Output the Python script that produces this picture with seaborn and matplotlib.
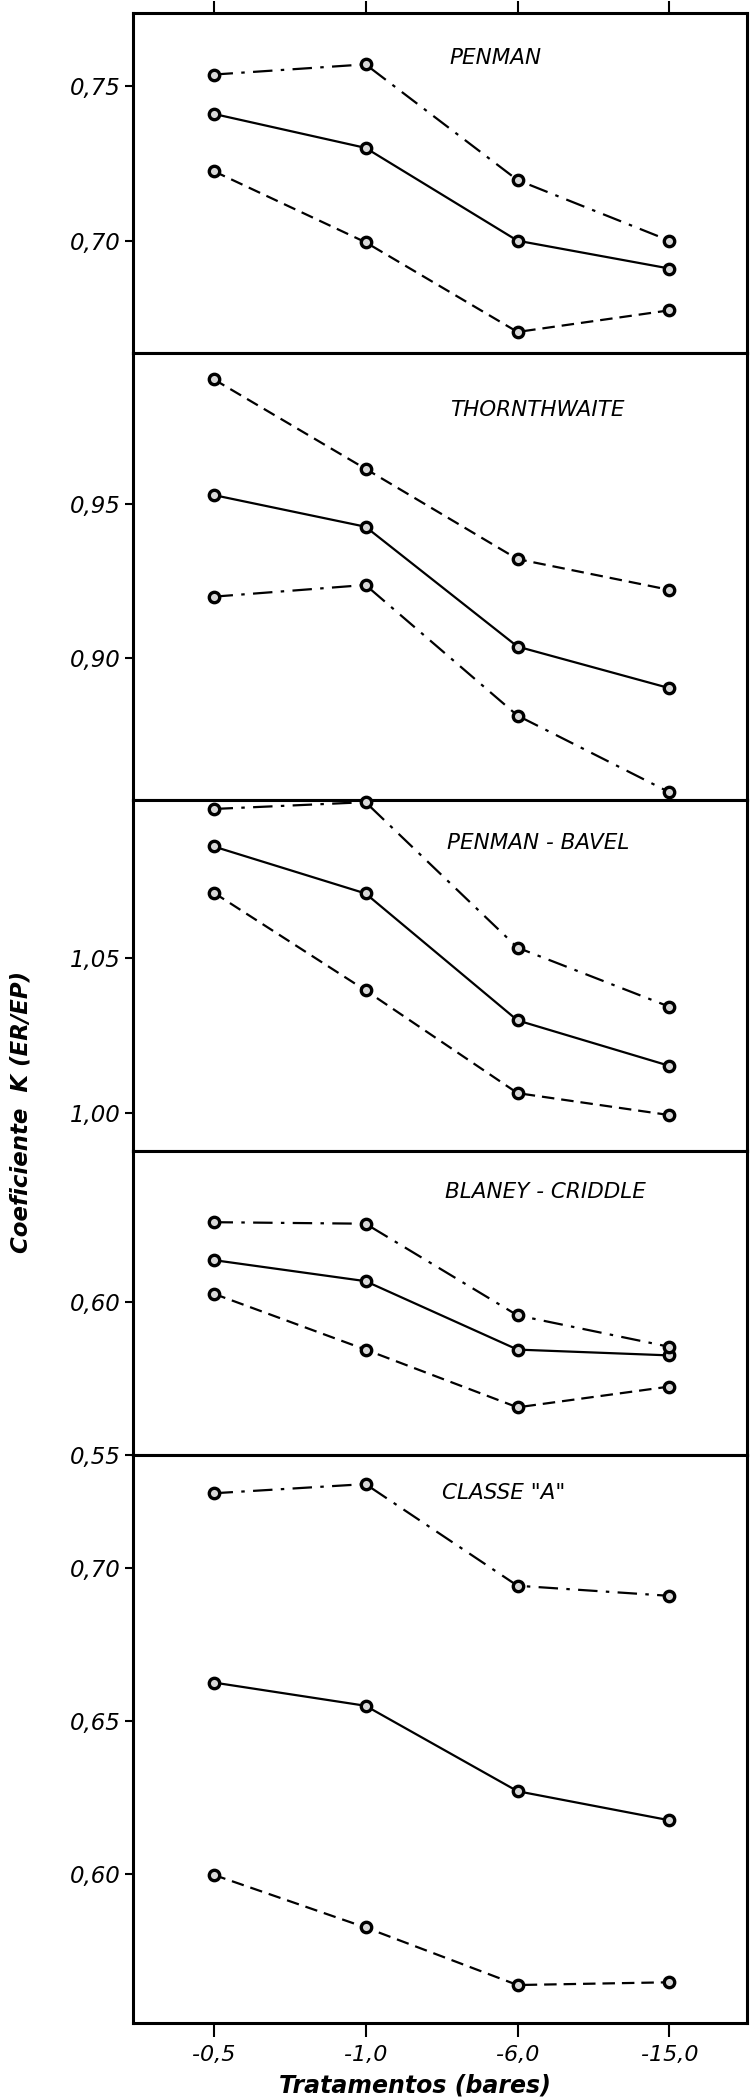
import matplotlib
matplotlib.use("Agg")
import matplotlib.pyplot as plt
import pandas as pd
import seaborn as sns

# Treatments (soil water tension, bars)
tratamentos = ["-0,5", "-1,0", "-6,0", "-15,0"]

# Coefficient K (ER/EP) for each method; three curves per method
penman_solid = [0.741, 0.730, 0.700, 0.691]
penman_dashed = [0.7225, 0.6995, 0.6705, 0.6775]
penman_dashdot = [0.7537, 0.757, 0.7196, 0.700]

thorn_solid = [0.953, 0.9427, 0.9038, 0.8903]
thorn_dashed = [0.9906, 0.9615, 0.9322, 0.9222]
thorn_dashdot = [0.920, 0.9238, 0.8814, 0.8565]

bavel_solid = [1.0862, 1.071, 1.030, 1.0153]
bavel_dashed = [1.0713, 1.0397, 1.0065, 0.9994]
bavel_dashdot = [1.0983, 1.1005, 1.0535, 1.0344]

blaney_solid = [0.6138, 0.6069, 0.5845, 0.5826]
blaney_dashed = [0.6028, 0.5845, 0.5656, 0.5724]
blaney_dashdot = [0.6262, 0.6257, 0.5957, 0.5854]

classe_solid = [0.6625, 0.6549, 0.627, 0.6175]
classe_dashed = [0.5997, 0.5825, 0.5637, 0.5646]
classe_dashdot = [0.7243, 0.7273, 0.6941, 0.6908]

metodos = ["PENMAN", "THORNTHWAITE", "PENMAN - BAVEL", "BLANEY - CRIDDLE", 'CLASSE "A"']

yticks_penman = [0.70, 0.75]
yticks_thorn = [0.90, 0.95]
yticks_bavel = [1.00, 1.05]
yticks_blaney = [0.55, 0.60]
yticks_classe = [0.60, 0.65, 0.70]

series = [
    (penman_solid, penman_dashed, penman_dashdot),
    (thorn_solid, thorn_dashed, thorn_dashdot),
    (bavel_solid, bavel_dashed, bavel_dashdot),
    (blaney_solid, blaney_dashed, blaney_dashdot),
    (classe_solid, classe_dashed, classe_dashdot),
]
yticks = [yticks_penman, yticks_thorn, yticks_bavel, yticks_blaney, yticks_classe]

# ---- layout / style -------------------------------------------------------
sns.set_theme(style="ticks")
plt.rcParams["font.family"] = ["DejaVu Sans"]
plt.rcParams["lines.scale_dashes"] = False
plt.rcParams["text.color"] = "black"
plt.rcParams["xtick.color"] = "black"
plt.rcParams["ytick.color"] = "black"
plt.rcParams["xtick.labelcolor"] = "black"
plt.rcParams["ytick.labelcolor"] = "black"

W, H = 751, 2099
fig = plt.figure(figsize=(W / 100, H / 100), dpi=100)
fig.patch.set_facecolor("white")

x_left, x_right = 133, 747
bounds = [13, 353, 800, 1151, 1455, 2023]          # panel edges in pixels from top
ylims = [(0.6637, 0.7736), (0.854, 0.9991), (0.9878, 1.1012),
         (0.55, 0.6495), (0.5513, 0.7368)]
title_pos = [(0.516, 0.868), (0.516, 0.8725), (0.511, 0.877),
             (0.508, 0.865), (0.503, 0.933)]

dash_styles = {"solid": "", "dashed": (9, 5), "dashdot": (14, 6, 2.5, 6)}
marker_styles = {"solid": "o", "dashed": "o", "dashdot": "o"}

axes = []
for i in range(5):
    top, bot = bounds[i], bounds[i + 1]
    ax = fig.add_axes([x_left / W, 1 - bot / H, (x_right - x_left) / W, (bot - top) / H])
    axes.append(ax)

    solid, dashed, dashdot = series[i]
    df = pd.DataFrame({
        "tratamento": tratamentos * 3,
        "K": list(solid) + list(dashed) + list(dashdot),
        "curva": ["solid"] * 4 + ["dashed"] * 4 + ["dashdot"] * 4,
    })
    sns.lineplot(data=df, x="tratamento", y="K", style="curva",
                 dashes=dash_styles, markers=marker_styles, color="black",
                 legend=False, sort=False, ax=ax, linewidth=1.6,
                 markersize=7.5, markerfacecolor="#d8d8d8", markeredgecolor="black",
                 markeredgewidth=2.4, clip_on=False, zorder=3)

    ax.set_xlim(-0.53, 3.51)
    ax.set_ylim(*ylims[i])
    ax.set_yticks(yticks[i])
    ax.set_yticklabels([f"{t:.2f}".replace(".", ",") for t in yticks[i]],
                       fontsize=16.5, fontstyle="italic", color="black")
    ax.tick_params(axis="y", direction="out", length=6, width=1.5, pad=3)
    ax.set_xlabel("")
    ax.set_ylabel("")
    for s in ax.spines.values():
        s.set_linewidth(2.2)
        s.set_color("black")
        s.set_visible(True)
    ax.set_facecolor("white")
    ax.text(title_pos[i][0], title_pos[i][1], metodos[i], transform=ax.transAxes,
            fontsize=15.5, fontstyle="italic", ha="left", va="center", color="black")

    if i == 0:
        ax.tick_params(axis="x", bottom=False, labelbottom=False, top=True,
                       labeltop=False, direction="out", length=9, width=1.5)
    elif i == 4:
        ax.tick_params(axis="x", bottom=True, labelbottom=True, top=False,
                       direction="out", length=10, width=1.5, pad=6,
                       labelsize=16)
        for lbl in ax.get_xticklabels():
            lbl.set_fontstyle("italic")
            lbl.set_color("black")
    else:
        ax.tick_params(axis="x", bottom=False, labelbottom=False)

fig.text(21 / W, 1 - 1112 / H, "Coeficiente  K (ER/EP)", rotation=90,
         ha="center", va="center", fontsize=16.5, fontweight="bold",
         fontstyle="italic", color="black")
fig.text(415 / W, 1 - 2085 / H, "Tratamentos (bares)", ha="center", va="center",
         fontsize=17, fontstyle="italic", fontweight="bold", color="black")

fig.savefig("out.png", dpi=100, facecolor="white")
